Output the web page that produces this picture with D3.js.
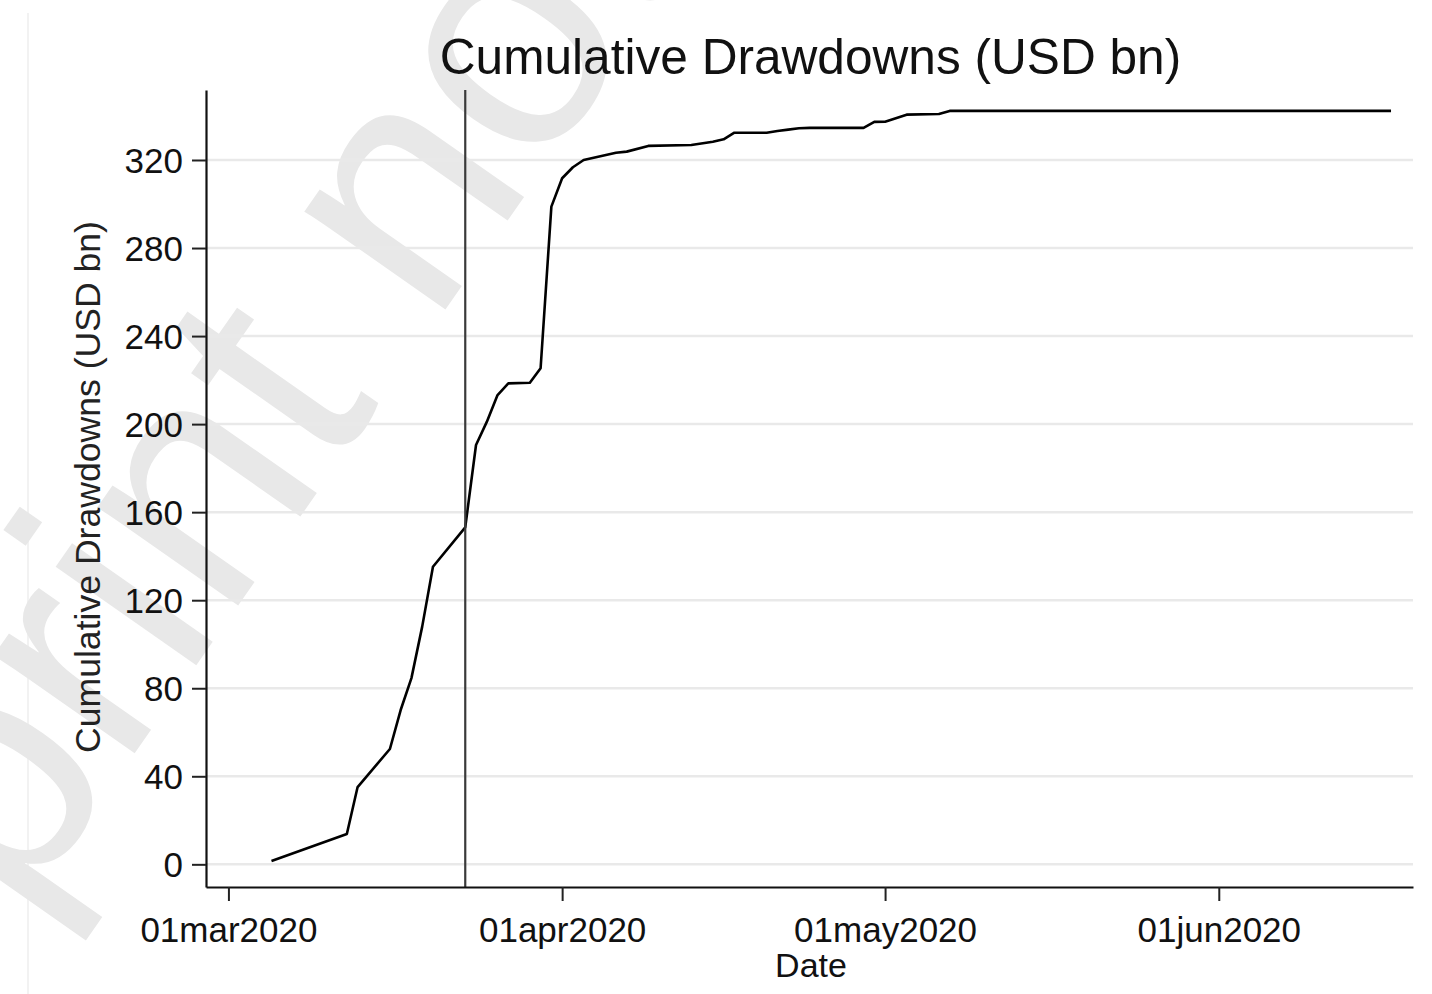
<!DOCTYPE html>
<html>
<head>
<meta charset="utf-8">
<script src="https://cdn.jsdelivr.net/npm/d3@7"></script>
<style>
  html, body { margin: 0; padding: 0; background: #fff; }
  svg { display: block; }
  text { font-family: "Liberation Sans", Arial, Helvetica, sans-serif; }
</style>
</head>
<body>
<svg id="chart" width="1432" height="994"></svg>
<script>
// ---- data ----
const dates = ["2020-03-05","2020-03-12","2020-03-13","2020-03-16","2020-03-17","2020-03-18","2020-03-19","2020-03-20",
  "2020-03-23","2020-03-24","2020-03-25","2020-03-26","2020-03-27","2020-03-29","2020-03-30","2020-03-31",
  "2020-04-01","2020-04-02","2020-04-03","2020-04-06","2020-04-07","2020-04-09","2020-04-13","2020-04-15",
  "2020-04-16","2020-04-17","2020-04-20","2020-04-21","2020-04-22","2020-04-23","2020-04-24","2020-04-29",
  "2020-04-30","2020-05-01","2020-05-03","2020-05-06","2020-05-07","2020-06-17"];
const drawdowns = [1.5,13.8,35.1,52.4,70.1,84.6,108,135.2,
  153.1,190.5,201,213.2,218.5,218.8,225.4,298.8,
  311.7,316.7,320,323.3,323.8,326.4,326.8,328.3,
  329.4,332.4,332.4,333.2,333.8,334.4,334.6,334.6,
  337.3,337.4,340.6,340.9,342.3,342.3];
const yTicks = [0,40,80,120,160,200,240,280,320];
const xTickDates = ["2020-03-01","2020-04-01","2020-05-01","2020-06-01"];
const xTickLabels = ["01mar2020","01apr2020","01may2020","01jun2020"];
const eventDate = "2020-03-23";
const titleText = "Cumulative Drawdowns (USD bn)";
const yLabelText = "Cumulative Drawdowns (USD bn)";
const xLabelText = "Date";
const watermarkText = "Preprint not peer reviewed";

// ---- setup ----
const parse = d3.utcParse("%Y-%m-%d");
const svg = d3.select("#chart");
const L = 206, R = 1413, T = 90, B = 887;

const x = d3.scaleUtc()
  .domain([Date.UTC(2020,1,27,22), Date.UTC(2020,5,19,1)])
  .range([L, R]);
const y = d3.scaleLinear()
  .domain([-10.3, 351.8])
  .range([B, T]);

// faint page edge
svg.append("line").attr("x1",28).attr("x2",28).attr("y1",13).attr("y2",994)
  .attr("stroke","#f2f2f2").attr("stroke-width",2);

// watermark
svg.append("text")
  .attr("transform","translate(-272,1334) rotate(-55)")
  .attr("font-size",325)
  .attr("fill","#e8e8e8")
  .text(watermarkText);

// gridlines
svg.append("g").selectAll("line").data(yTicks).join("line")
  .attr("x1", L).attr("x2", R)
  .attr("y1", d => y(d)).attr("y2", d => y(d))
  .attr("stroke", "#e9e9e9").attr("stroke-width", 2.5);

// data line
const data = dates.map((d,i) => ({date: parse(d), v: drawdowns[i]}));
svg.append("path").datum(data)
  .attr("fill","none").attr("stroke","#000").attr("stroke-width",2.6)
  .attr("stroke-linejoin","round")
  .attr("d", d3.line().x(d => x(d.date)).y(d => y(d.v)));

// event line
svg.append("line")
  .attr("x1", x(parse(eventDate))).attr("x2", x(parse(eventDate)))
  .attr("y1", T).attr("y2", B)
  .attr("stroke","#3a3a3a").attr("stroke-width",2.2);

// axes
const yAxis = d3.axisLeft(y).tickValues(yTicks).tickSize(14).tickSizeOuter(0).tickPadding(9);
const gy = svg.append("g").attr("transform",`translate(${L},0)`).call(yAxis);
const xAxis = d3.axisBottom(x).tickValues(xTickDates.map(parse))
  .tickFormat((d,i) => xTickLabels[i]).tickSize(14).tickSizeOuter(0).tickPadding(14);
const gx = svg.append("g").attr("transform",`translate(0,${B})`).call(xAxis);

[gx, gy].forEach(g => {
  g.select(".domain").attr("stroke","#111").attr("stroke-width",2.2);
  g.selectAll(".tick line").attr("stroke","#222").attr("stroke-width",2);
  g.selectAll(".tick text").attr("font-size",35).attr("fill","#111")
    .attr("font-family","'Liberation Sans', Arial, sans-serif");
});
gx.selectAll(".tick text").attr("dy", null).attr("y", null)
  .attr("transform","translate(0,55)");
gy.selectAll(".tick text").attr("dy","0.36em");

// title
svg.append("text").attr("x", 810.5).attr("y", 74).attr("text-anchor","middle")
  .attr("font-size", 49.6).attr("fill","#111").text(titleText);

// axis labels
svg.append("text").attr("x", 811).attr("y", 977).attr("text-anchor","middle")
  .attr("font-size", 34).attr("fill","#111").text(xLabelText);
svg.append("text").attr("transform","translate(100,487) rotate(-90)")
  .attr("text-anchor","middle").attr("font-size", 35.6).attr("fill","#222").text(yLabelText);
</script>
</body>
</html>
